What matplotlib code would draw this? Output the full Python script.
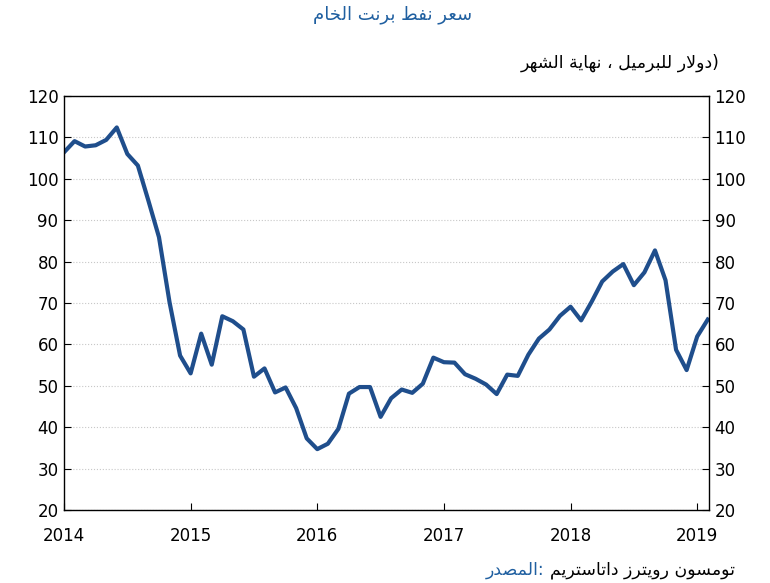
import matplotlib
matplotlib.use('Agg')
import matplotlib.pyplot as plt
import numpy as np

# monthly end-of-month Brent price, Jan 2014 .. Feb 2019
prices = [106.4, 109.1, 107.8, 108.1, 109.4, 112.4, 106.0, 103.2, 94.7, 85.9, 70.2, 57.3,
          53.0, 62.6, 55.1, 66.8, 65.6, 63.6, 52.2, 54.2, 48.4, 49.6, 44.6, 37.3,
          34.7, 36.0, 39.6, 48.1, 49.7, 49.7, 42.5, 47.0, 49.1, 48.3, 50.5, 56.8,
          55.7, 55.6, 52.8, 51.7, 50.3, 48.0, 52.7, 52.4, 57.5, 61.4, 63.6, 66.9,
          69.1, 65.8, 70.3, 75.2, 77.6, 79.4, 74.3, 77.4, 82.7, 75.5, 58.7, 53.8,
          61.9, 66.0]
years = [2014, 2015, 2016, 2017, 2018, 2019]
yticks = [20, 30, 40, 50, 60, 70, 80, 90, 100, 110, 120]

title = "سعر نفط برنت الخام"
subtitle = "دولار للبرميل ، نهاية الشهر"
src_label = "المصدر"
src_text = "تومسون رويترز داتاستريم"

# minimal arabic shaping (presentation forms B): isolated, final, initial, medial
FORMS = {
    'ا': (0xFE8D, 0xFE8E), 'د': (0xFEA9, 0xFEAA), 'ر': (0xFEAD, 0xFEAE),
    'ز': (0xFEAF, 0xFEB0), 'و': (0xFEED, 0xFEEE), 'ة': (0xFE93, 0xFE94),
    'ب': (0xFE8F, 0xFE90, 0xFE91, 0xFE92), 'ت': (0xFE95, 0xFE96, 0xFE97, 0xFE98),
    'خ': (0xFEA5, 0xFEA6, 0xFEA7, 0xFEA8), 'س': (0xFEB1, 0xFEB2, 0xFEB3, 0xFEB4),
    'ش': (0xFEB5, 0xFEB6, 0xFEB7, 0xFEB8), 'ص': (0xFEB9, 0xFEBA, 0xFEBB, 0xFEBC),
    'ط': (0xFEC1, 0xFEC2, 0xFEC3, 0xFEC4), 'ع': (0xFEC9, 0xFECA, 0xFECB, 0xFECC),
    'ف': (0xFED1, 0xFED2, 0xFED3, 0xFED4), 'ل': (0xFEDD, 0xFEDE, 0xFEDF, 0xFEE0),
    'م': (0xFEE1, 0xFEE2, 0xFEE3, 0xFEE4), 'ن': (0xFEE5, 0xFEE6, 0xFEE7, 0xFEE8),
    'ه': (0xFEE9, 0xFEEA, 0xFEEB, 0xFEEC), 'ي': (0xFEF1, 0xFEF2, 0xFEF3, 0xFEF4),
}


def shape_word(w):
    # lam-alef ligature as a right-joining-only letter
    chars = []
    i = 0
    while i < len(w):
        if w[i] == 'ل' and i + 1 < len(w) and w[i + 1] == 'ا':
            chars.append('LA')
            i += 2
        else:
            chars.append(w[i])
            i += 1
    forms = dict(FORMS)
    forms['LA'] = (0xFEFB, 0xFEFC)
    out = []
    for k, c in enumerate(chars):
        if c not in forms:
            out.append(c)
            continue
        f = forms[c]
        prev = chars[k - 1] if k > 0 else None
        nxt = chars[k + 1] if k + 1 < len(chars) else None
        jp = prev in forms and len(forms[prev]) == 4
        jn = len(f) == 4 and nxt in forms
        if jp and jn:
            out.append(chr(f[3]))
        elif jp:
            out.append(chr(f[1]))
        elif jn:
            out.append(chr(f[2]))
        else:
            out.append(chr(f[0]))
    return ''.join(out[::-1])


def vis(s):
    # reference shows the words left-to-right in reading order
    return ' '.join(shape_word(w) for w in s.split(' ')[::-1])


x = 2014 + np.arange(len(prices)) / 12.0

fig = plt.figure(figsize=(7.7, 5.83), dpi=100)
ax = fig.add_axes([64 / 770, 73 / 583, 645 / 770, 414 / 583])
ax.plot(x, prices, color='#1f4e8c', lw=3)
ax.set_xlim(2014, 2014 + 61 / 12.0 + 0.01)
ax.set_ylim(20, 120)
ax.set_yticks(yticks)
ax.set_xticks(years)
ax.grid(axis='y', color='#c8c8c8', ls=':', lw=0.8)
ax.tick_params(axis='y', left=True, right=True, labelleft=True, labelright=True,
               direction='in', length=5, labelsize=12, pad=4)
ax.tick_params(axis='x', direction='in', length=5, labelsize=12, pad=12)
for s in ax.spines.values():
    s.set_linewidth(1)

fig.text(0.51, 0.975, vis(title), color='#1f5fa0', fontsize=13,
         ha='center', va='center', family='DejaVu Sans')
fig.text(0.935, 0.893, vis(subtitle).replace('،', '،') + ')', color='black', fontsize=12.5,
         ha='right', va='center', family='DejaVu Sans')
fig.text(0.935, 0.893, '', color='black')
t = fig.text(0.955, 0.022, vis(src_text), color='black', fontsize=12.5,
             ha='right', va='center', family='DejaVu Sans')
ax.annotate(vis(src_label) + ': ', xy=(0, 0.5), xycoords=t, color='#1f5fa0',
            fontsize=12.5, ha='right', va='center', family='DejaVu Sans')

fig.savefig('out.png', dpi=100)
